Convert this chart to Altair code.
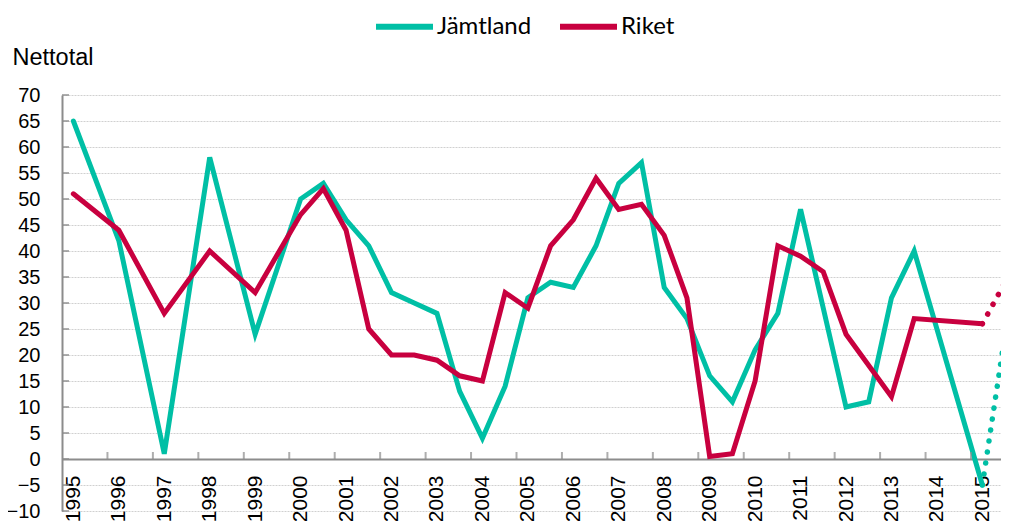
import altair as alt
import pandas as pd

# ---- data ----
periods = [1995, 1996, 1997, 1998, 1999,
           2000, 2000.5, 2001, 2001.5, 2002, 2002.5, 2003, 2003.5, 2004, 2004.5,
           2005, 2005.5, 2006, 2006.5, 2007, 2007.5, 2008, 2008.5, 2009, 2009.5,
           2010, 2010.5, 2011, 2011.5, 2012, 2012.5, 2013, 2013.5, 2014, 2014.5, 2015]
jamtland = [65, 42, 1, 58, 24,
            50, 53, 46, 41, 32, 30, 28, 13, 4, 14,
            31, 34, 33, 41, 53, 57, 33, 27, 16, 11,
            21, 28, 48, 29, 10, 11, 31, 40, None, None, -5]
riket = [51, 44, 28, 40, 32,
         47, 52, 44, 25, 20, 20, 19, 16, 15, 32,
         29, 41, 46, 54, 48, 49, 43, 31, 0.5, 1,
         15, 41, 39, 36, 24, None, 12, 27, None, None, 26]

forecast_periods = [2015, 2015.5]
jamtland_fc = [-5, 24]
riket_fc = [26, 34]

series = ["Jämtland", "Riket"]
colors = ["#00BFA5", "#C8003F"]

year_labels = list(range(1995, 2016))
x_tick_pos = [y + 0.75 for y in range(1995, 2015)]
y_ticks = list(range(-10, 75, 5))

# ---- tables ----
rows = []
for name, vals in zip(series, [jamtland, riket]):
    for p, v in zip(periods, vals):
        if v is not None:
            rows.append({"period": p, "value": v, "series": name})
df = pd.DataFrame(rows)

fc_rows = []
for name, vals in zip(series, [jamtland_fc, riket_fc]):
    for p, v in zip(forecast_periods, vals):
        fc_rows.append({"period": p, "value": v, "series": name})
fc = pd.DataFrame(fc_rows)

xt = pd.DataFrame({"t": x_tick_pos})
yt = pd.DataFrame({"v": y_ticks})

AXIS_GRAY = "#8c8c8c"
xscale = alt.Scale(domain=[1994.75, 2015.41], nice=False, zero=False)
yscale = alt.Scale(domain=[-10, 70], nice=False, zero=False)

x_axis = alt.Axis(orient="bottom", values=year_labels, format="d", labelAngle=-90,
                  labelAlign="right", labelBaseline="middle", labelPadding=16,
                  ticks=False, tickSize=0, grid=False, domainColor=AXIS_GRAY,
                  domainWidth=2, offset=-52,
                  labelFont="Liberation Sans", labelFontSize=21, labelColor="black",
                  title=None, labelOverlap=False, labelFlush=False)
y_axis = alt.Axis(orient="left", values=y_ticks, grid=True, gridColor="#d0d0d0",
                  gridDash=[2, 1], gridWidth=1, ticks=False, tickSize=0,
                  labelPadding=22, domainColor=AXIS_GRAY, domainWidth=2,
                  labelFont="Liberation Sans", labelFontSize=20, labelColor="black",
                  title="Nettotal", titleAngle=0, titleX=-50, titleY=-38,
                  titleAlign="left", titleBaseline="middle",
                  titleFont="Liberation Sans", titleFontSize=23.5,
                  titleFontWeight="normal", titleColor="black")

color_scale = alt.Scale(domain=series, range=colors)

ticks_x = alt.Chart(xt).mark_tick(orient="vertical", size=7, thickness=2,
                                  color=AXIS_GRAY, yOffset=-3.5).encode(
    x=alt.X("t:Q", scale=xscale, axis=None),
    y=alt.YDatum(0, type="quantitative", scale=yscale, axis=None),
)
ticks_y = alt.Chart(yt).mark_tick(orient="horizontal", size=7, thickness=2,
                                  color=AXIS_GRAY, xOffset=3.5).encode(
    x=alt.XDatum(1994.75, type="quantitative", scale=xscale, axis=None),
    y=alt.Y("v:Q", scale=yscale, axis=None),
)

lines = alt.Chart(df).mark_line(strokeWidth=5, strokeCap="round").encode(
    x=alt.X("period:Q", scale=xscale, axis=x_axis),
    y=alt.Y("value:Q", scale=yscale, axis=y_axis),
    color=alt.Color("series:N", scale=color_scale, sort=series,
                    legend=alt.Legend(orient="none", legendX=311, legendY=-100,
                                      direction="horizontal", title=None,
                                      symbolType="stroke", symbolSize=3249,
                                      symbolStrokeWidth=6, labelFont="Lato",
                                      labelFontSize=24, labelOffset=1,
                                      columnPadding=16, padding=0,
                                      labelColor="black", labelLimit=300)),
    detail="series:N",
)

dotted = alt.Chart(fc).mark_line(strokeWidth=5.5, strokeCap="round",
                                 strokeDash=[0.1, 11]).encode(
    x=alt.X("period:Q", scale=xscale, axis=None),
    y=alt.Y("value:Q", scale=yscale, axis=None),
    color=alt.Color("series:N", scale=color_scale, legend=None),
)

chart = alt.layer(lines, ticks_x, ticks_y, dotted).resolve_axis(
    x="independent", y="independent"
).resolve_legend(color="independent").properties(
    width=939, height=416,
    padding={"left": 54, "top": 87, "right": 0, "bottom": 10},
    autosize="none", background="white",
).configure_view(stroke=None)

chart.save("out.html", embed_options={"renderer": "svg", "actions": False})
